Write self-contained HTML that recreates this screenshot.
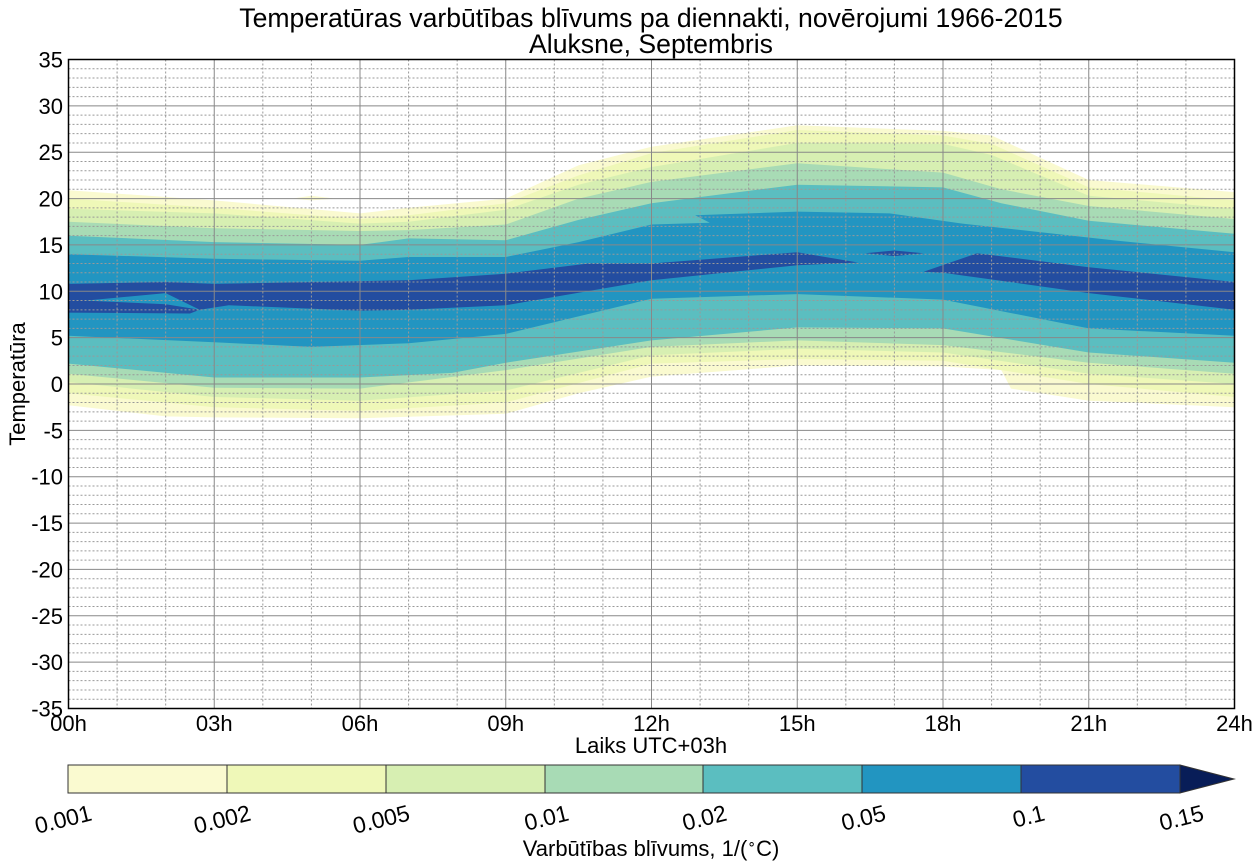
<!DOCTYPE html>
<html><head><meta charset="utf-8"><style>
html,body{margin:0;padding:0;background:#fff}
svg{display:block}
text{font-family:"Liberation Sans",Arial,sans-serif;fill:#000}
</style></head><body>
<svg id="s" width="1260" height="868" xmlns="http://www.w3.org/2000/svg">
<rect width="1260" height="868" fill="#fff"/>
<g id="fills"></g>
<g id="grid"></g>
<rect x="68.5" y="59.5" width="1166" height="649" fill="none" stroke="#000" stroke-width="1.5"/>
<g id="labels" font-size="22"></g>
<text x="651" y="27" font-size="26.6" text-anchor="middle">Temperatūras varbūtības blīvums pa diennakti, novērojumi 1966-2015</text>
<text x="651" y="53" font-size="26.6" text-anchor="middle">Aluksne, Septembris</text>
<text x="651" y="753" font-size="22" text-anchor="middle">Laiks UTC+03h</text>
<text transform="translate(25,384) rotate(-90)" font-size="22" text-anchor="middle">Temperatūra</text>
<g id="cbar"></g>
<text x="651" y="856" font-size="22" text-anchor="middle">Varbūtības blīvums, 1/(<tspan font-size="14" dy="-8">∘</tspan><tspan dy="8">C)</tspan></text>
</svg>
<script>
var X0=68.5,X1=1234.5,Y0=59.5,Y1=708.5;
function X(h){return X0+(X1-X0)*h/24}
function Y(t){return Y0+(Y1-Y0)*(35-t)/70}
var C=["#fafad0","#eff8b8","#d7efb2","#a8dbb5","#5bbec0","#2295c1","#234da0"];
var NS="http://www.w3.org/2000/svg";
function el(p,n,a,txt){var e=document.createElementNS(NS,n);for(var k in a)e.setAttribute(k,a[k]);if(txt!=null)e.textContent=txt;p.appendChild(e);return e}
function band(top,bot){var p=[];top.forEach(function(q){p.push(X(q[0]).toFixed(1)+","+Y(q[1]).toFixed(1))});
 bot.slice().reverse().forEach(function(q){p.push(X(q[0]).toFixed(1)+","+Y(q[1]).toFixed(1))});return p.join(" ")}
var F=document.getElementById("fills");
var L=[
[[[0,20.9],[3,19.8],[6,18.4],[7,19],[9,20],[10.5,23.6],[12,25.6],[15,27.9],[18,27.3],[19,26.8],[21,22],[24,20.7]],
 [[0,-2.3],[2,-3.5],[3,-3.6],[6,-3.7],[9,-3.2],[10.5,-1],[12,0.8],[15,2],[18,1.9],[19.2,1.5],[19.4,-0.5],[21,-1.8],[24,-2.5]]],
[[[0,20],[3,19],[6,17.8],[7,18.2],[9,19.5],[10.5,22.5],[12,24.9],[15,27.4],[18,26.8],[19,25.9],[21,21.2],[24,19.8]],
 [[0,-1],[3,-2.5],[6,-2.9],[9,-2],[12,2.2],[15,2.7],[18,2.5],[21,0],[24,-1.4]]],
[[[0,18.9],[3,18.4],[6,17.3],[7,17.5],[9,18.8],[10.5,21.5],[12,23.4],[15,26],[18,25.9],[19,24.7],[21,20.3],[24,18.9]],
 [[0,0.2],[3,-1.4],[6,-1.8],[9,-0.7],[12,3.1],[15,3.8],[18,3.4],[21,1.1],[24,0]]],
[[[0,17.5],[3,16.8],[6,16.5],[7,16.6],[9,17.2],[10.5,20],[12,21.8],[15,23.8],[18,22.8],[19.2,21],[21,19.2],[24,17.8]],
 [[0,1.1],[3,-0.4],[6,-0.5],[9,1.5],[12,4.0],[15,4.7],[18,4.2],[21,2.3],[24,1.1]]],
[[[0,16],[3,15.3],[6,15],[7,15.7],[9,15.5],[10.5,17.7],[12,19.5],[15,21.5],[18,21.2],[19.2,19.5],[21,17.6],[24,16.2]],
 [[0,2.2],[3,0.7],[6,0.7],[7.9,1.2],[9,2.3],[12,4.7],[15,6.1],[18,6.0],[21,3.4],[24,2.3]]],
[[[0,14],[3,13.5],[6,13.3],[7,13.7],[9,13.7],[10.5,15.3],[12,17.2],[13.2,17.4],[12.9,18.2],[15,18.6],[16.9,18.4],[18.4,17.3],[21.5,15.5],[24,14.2]],
 [[0,5.2],[3,4.5],[5,4],[7,4.4],[9,5.4],[12,9.2],[15,9.7],[18,9.1],[21,6.0],[24,5.2]]],
[[[0,10.8],[2,11],[3,10.8],[6,11.1],[7,11.2],[9,11.9],[10.7,13],[12,13],[15,14.2],[16.25,13.1]],
 [[0,7.7],[2.5,7.6],[2.7,8.0],[3.3,8.5],[6,7.9],[7,8.0],[9,8.5],[12,11.2],[15,12.8],[16.25,13.1]]]
];
L.forEach(function(b,i){el(F,"polygon",{points:band(b[0],b[1]),fill:C[i]})});
function poly(pts,c){el(F,"polygon",{points:pts.map(function(q){return X(q[0]).toFixed(1)+","+Y(q[1]).toFixed(1)}).join(" "),fill:c})}
poly([[0.35,9.0],[2,9.8],[2.7,8.0],[2,8.6]],C[5]);
poly([[17.6,12.1],[18.7,14.1],[21,12.6],[24,11.0],[24,8.0],[21,9.8],[18,12.0]],C[6]);
poly([[16.4,14.1],[17,14.4],[17.6,14.1],[17,13.8]],C[6]);
poly([[4.6,20],[5,20.3],[5.5,20],[5,19.8]],C[0]);
var G=document.getElementById("grid");
for(var t=-35;t<=35;t++){if(t%5==0)el(G,"line",{x1:X0,x2:X1,y1:Y(t),y2:Y(t),stroke:"#888","stroke-width":1});
 else el(G,"line",{x1:X0,x2:X1,y1:Y(t),y2:Y(t),stroke:"#999","stroke-width":1,"stroke-dasharray":"2,2"});}
for(var h=0;h<=24;h++){if(h%3==0)el(G,"line",{x1:X(h),x2:X(h),y1:Y0,y2:Y1,stroke:"#888","stroke-width":1});
 else el(G,"line",{x1:X(h),x2:X(h),y1:Y0,y2:Y1,stroke:"#999","stroke-width":1,"stroke-dasharray":"2,2"});}
var Lb=document.getElementById("labels");
for(var t=-35;t<=35;t+=5)el(Lb,"text",{x:63,y:Y(t)+8,"text-anchor":"end"},String(t));
for(var h=0;h<=24;h+=3)el(Lb,"text",{x:X(h),y:731,"text-anchor":"middle"},(h<10?"0":"")+h+"h");
var CB=document.getElementById("cbar");
var bx=[68,227,386,545,703,862,1021,1180],labs=["0.001","0.002","0.005","0.01","0.02","0.05","0.1","0.15"];
for(var i=0;i<7;i++)el(CB,"rect",{x:bx[i],y:765,width:bx[i+1]-bx[i],height:28,fill:C[i],stroke:"#333","stroke-width":1});
el(CB,"polygon",{points:"1180,765 1234,779 1180,793",fill:"#081d58",stroke:"#333","stroke-width":1});
for(var i=0;i<8;i++)el(CB,"text",{transform:"translate("+(bx[i]+25)+",820) rotate(-14)","font-size":23,"text-anchor":"end"},labs[i]);
</script>
</body></html>
